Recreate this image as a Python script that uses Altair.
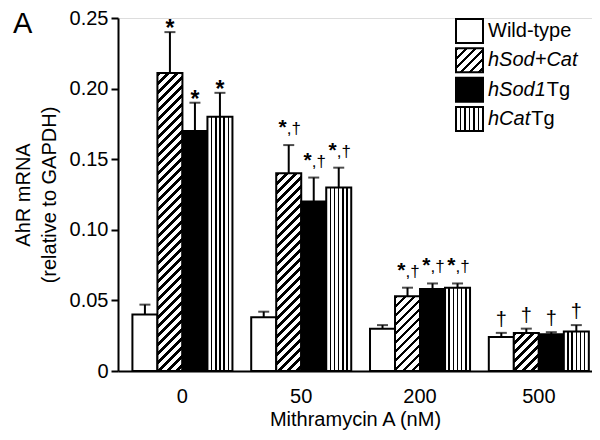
import altair as alt
import pandas as pd

# ---------------- data ----------------
doses = ["0", "50", "200", "500"]
series = ["Wild-type", "hSod+Cat", "hSod1Tg", "hCatTg"]

wt_vals = [0.040, 0.038, 0.030, 0.024]
sodcat_vals = [0.211, 0.140, 0.053, 0.027]
sod1_vals = [0.170, 0.120, 0.058, 0.026]
cat_vals = [0.180, 0.130, 0.059, 0.028]

wt_err = [0.007, 0.004, 0.0025, 0.003]
sodcat_err = [0.029, 0.020, 0.006, 0.003]
sod1_err = [0.020, 0.017, 0.004, 0.0015]
cat_err = [0.017, 0.014, 0.003, 0.0045]

wt_sig = ["", "", "", "†"]
sodcat_sig = ["*", "*,†", "*,†", "†"]
sod1_sig = ["*", "*,†", "*,†", "†"]
cat_sig = ["*", "*,†", "*,†", "†"]

y_ticks = [0, 0.05, 0.10, 0.15, 0.20, 0.25]

# legend label parts (text, style)
legend_parts = [
    [("Wild-type", "normal")],
    [("hSod+Cat", "italic")],
    [("hSod1", "italic"), ("Tg", "normal")],
    [("hCat", "italic"), ("Tg", "normal")],
]

# ---------------- table ----------------
vals = [wt_vals, sodcat_vals, sod1_vals, cat_vals]
errs = [wt_err, sodcat_err, sod1_err, cat_err]
sigs = [wt_sig, sodcat_sig, sod1_sig, cat_sig]
rows = []
for si, s in enumerate(series):
    for di, d in enumerate(doses):
        v = vals[si][di]
        rows.append({"dose": d, "series": s, "value": v,
                     "hi": v + errs[si][di], "sig": sigs[si][di]})
df = pd.DataFrame(rows)

# ---------------- layout / style ----------------
W, H = 474, 353
YMAX = 0.25
P_IN, P_OUT, ALIGN = 0.158, 0.074, 0.82
FONT = "Liberation Sans"
step = W / (len(doses) - P_IN + 2 * P_OUT)
bar_w = step * (1 - P_IN) / len(series)


def stripes_stops(total, period, frac):
    stops = []
    pos = 0.0
    while pos < total - 1e-9:
        a = round(pos / total, 5)
        b = round(min((pos + frac * period) / total, 1.0), 5)
        c = round(min((pos + period) / total, 1.0), 5)
        stops += [alt.GradientStop(offset=a, color="black"),
                  alt.GradientStop(offset=b, color="black"),
                  alt.GradientStop(offset=b, color="white"),
                  alt.GradientStop(offset=c, color="white")]
        pos += period
    return stops


def diag_fill(w, h, period=9.0, frac=0.4):
    s = (w + h) / (w * w + h * h)
    return alt.LinearGradient(gradient="linear", x1=0, y1=0,
                              x2=round(s * w, 6), y2=round(s * h, 6),
                              stops=stripes_stops(w + h, period, frac))


def vert_fill(n=6, lw=0.06):
    stops = [alt.GradientStop(offset=0, color="white")]
    for k in range(1, n):
        c = k / n
        stops += [alt.GradientStop(offset=round(c - lw / 2, 4), color="white"),
                  alt.GradientStop(offset=round(c - lw / 2, 4), color="black"),
                  alt.GradientStop(offset=round(c + lw / 2, 4), color="black"),
                  alt.GradientStop(offset=round(c + lw / 2, 4), color="white")]
    stops.append(alt.GradientStop(offset=1, color="white"))
    return alt.LinearGradient(gradient="linear", x1=0, y1=0, x2=1, y2=0, stops=stops)


x_scale = alt.Scale(domain=doses, paddingInner=P_IN, paddingOuter=P_OUT, align=ALIGN)
xo_scale = alt.Scale(domain=series, paddingInner=0, paddingOuter=0)
y_scale = alt.Scale(domain=[0, YMAX], nice=False, zero=True)

x_axis = alt.Axis(title="Mithramycin A (nM)", labelAngle=0, ticks=False, tickSize=0,
                  labelPadding=15, domainWidth=2, domainColor="black",
                  labelFontSize=20, titleFontSize=20, titlePadding=3,
                  labelColor="black", titleColor="black", titleFontWeight="normal",
                  labelFont=FONT, titleFont=FONT)
y_axis = alt.Axis(values=y_ticks,
                  labelExpr="datum.value == 0 ? '0' : format(datum.value, '.2f')",
                  tickSize=7, tickWidth=2, tickColor="black", domainWidth=2,
                  domainColor="black", grid=False, labelFontSize=20, labelPadding=3,
                  labelColor="black", title=["AhR mRNA", "(relative to GAPDH)"],
                  titleFontSize=20, titleLineHeight=26, titlePadding=10,
                  titleFontWeight="normal", titleColor="black",
                  labelFont=FONT, titleFont=FONT)


def enc(field):
    return dict(
        x=alt.X("dose:N", scale=x_scale, axis=x_axis, sort=doses),
        xOffset=alt.XOffset("series:N", scale=xo_scale, sort=series),
        y=alt.Y(field + ":Q", scale=y_scale, axis=y_axis, stack=None),
    )


base = alt.Chart(df)
main_layers = []

# bars
bar_style = dict(stroke="black", strokeWidth=2)
main_layers.append(base.transform_filter(alt.datum.series == "Wild-type")
                   .mark_bar(fill="white", **bar_style).encode(**enc("value")))
for d, v in zip(doses, sodcat_vals):
    h_px = v / YMAX * H
    main_layers.append(
        base.transform_filter((alt.datum.series == "hSod+Cat") & (alt.datum.dose == d))
        .mark_bar(fill=diag_fill(bar_w, h_px), **bar_style).encode(**enc("value")))
main_layers.append(base.transform_filter(alt.datum.series == "hSod1Tg")
                   .mark_bar(fill="black", **bar_style).encode(**enc("value")))
main_layers.append(base.transform_filter(alt.datum.series == "hCatTg")
                   .mark_bar(fill=vert_fill(), **bar_style).encode(**enc("value")))

# error bars (upper only)
main_layers.append(base.mark_rule(color="black", strokeWidth=2)
                   .encode(**enc("value"), y2="hi:Q"))
main_layers.append(base.mark_tick(color="black", thickness=2, size=11)
                   .encode(**enc("hi")))

# significance marks
txt = dict(font=FONT, fill="black")
main_layers.append(base.transform_filter(alt.datum.sig == "*")
                   .mark_text(text="*", fontSize=23, fontWeight="bold", baseline="alphabetic",
                              dy=4, **txt).encode(**enc("hi")))
main_layers.append(base.transform_filter(alt.datum.sig == "*,†")
                   .mark_text(text="*", fontSize=21, fontWeight="bold", align="right",
                              baseline="alphabetic", dx=-2, dy=-11, **txt).encode(**enc("hi")))
main_layers.append(base.transform_filter(alt.datum.sig == "*,†")
                   .mark_text(text=",†", fontSize=17, align="left",
                              baseline="alphabetic", dx=-2, dy=-11, **txt).encode(**enc("hi")))
main_layers.append(base.transform_filter(alt.datum.sig == "†")
                   .mark_text(text="†", fontSize=20, baseline="alphabetic",
                              dy=-7, **txt).encode(**enc("hi")))

# panel letter
main_layers.append(alt.Chart(pd.DataFrame({"t": ["A"]}))
                   .mark_text(fontSize=29, align="left", baseline="alphabetic", **txt)
                   .encode(text="t:N", x=alt.value(-105), y=alt.value(15)))

main = alt.layer(*main_layers)

# ---------------- legend ----------------
leg_df = pd.DataFrame({"series": series})
leg_y = alt.Scale(domain=series, range=[1, 113], paddingInner=0.18, paddingOuter=0)
LX0, LX1, LTX = 338, 365, 370
leg_fills = ["white", diag_fill(LX1 - LX0, 24), "black", vert_fill()]
char_w = {"h": .556, "S": .667, "o": .556, "d": .556, "1": .556,
          "C": .722, "a": .556, "t": .278}
leg_layers = []
for s, f, parts in zip(series, leg_fills, legend_parts):
    lb = alt.Chart(leg_df).transform_filter(alt.datum.series == s)
    leg_layers.append(lb.mark_rect(fill=f, stroke="black", strokeWidth=2).encode(
        x=alt.value(LX0), x2=alt.value(LX1),
        y=alt.Y("series:N", scale=leg_y, axis=None)))
    xpos = LTX
    for t, style in parts:
        leg_layers.append(lb.mark_text(text=t, fontSize=20, fontStyle=style, align="left",
                                       baseline="middle", **txt).encode(
            x=alt.value(xpos), y=alt.Y("series:N", scale=leg_y, axis=None)))
        xpos += sum(char_w.get(c, 0.556) for c in t) * 20 + 1

legend = alt.layer(*leg_layers)

chart = alt.layer(main, legend).resolve_scale(y="independent").properties(
    width=W, height=H,
    autosize=alt.AutoSizeParams(type="none"),
    padding={"left": 110, "top": 10, "right": 0, "bottom": 61},
).configure_view(stroke=None).configure(font=FONT)

chart.save("out.html", embed_options={"renderer": "svg", "actions": False})
